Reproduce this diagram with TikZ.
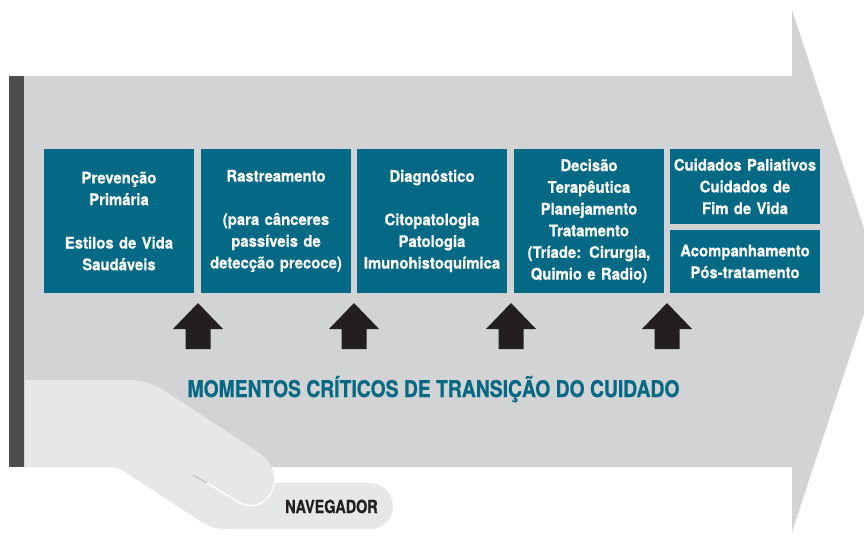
\documentclass[tikz,border=0pt]{standalone}
\usepackage{fontspec}
\newfontfamily\boxfont{TeX Gyre Heros}[FakeStretch=0.93, FakeBold=0.6]
\newfontfamily\titlefont{TeX Gyre Heros}[FakeStretch=0.84, FakeBold=0.6]
\newfontfamily\navfont{TeX Gyre Heros}[FakeStretch=0.80, FakeBold=0.6]
\definecolor{bodygray}{HTML}{D1D3D4}
\definecolor{handgray}{HTML}{E6E7E8}
\definecolor{bargray}{HTML}{4D4D4F}
\definecolor{boxteal}{HTML}{036984}
\definecolor{arrowblack}{HTML}{231F20}
\definecolor{creasegray}{HTML}{BDBEC0}
\tikzset{
  stagebox/.style={fill=boxteal, text=white, inner sep=0pt, minimum width=150pt,
    text width=148pt, align=center,
    font={\boxfont\bfseries\fontsize{16}{21.7}\selectfont}},
  uparrow/.pic={\fill[arrowblack] (-12.5,0) -- (12.5,0) -- (12.5,-20) -- (25,-20) -- (0,-46) -- (-25,-20) -- (-12.5,-20) -- cycle;}
}
\begin{document}
\begin{tikzpicture}[x=1pt,y=-1pt]
\useasboundingbox (0,0) rectangle (864,539);
% big arrow
\fill[bodygray] (24,76) -- (792,76) -- (792,10) -- (878,271) -- (792,532) -- (792,467) -- (24,467) -- cycle;
% hand
\fill[handgray] (25,380) -- (128,380) .. controls (145,380) and (155,385) .. (168,393)
  -- (255,450) .. controls (268,458) and (275,468) .. (274,483)
  -- (370,483) .. controls (383,483) and (393,494) .. (393,506)
  .. controls (393,519) and (383,529) .. (370,529)
  -- (225,529) .. controls (215,529) and (208,526) .. (200,521)
  -- (128,474) .. controls (122,470) and (118,467) .. (110,467)
  -- (25,467) -- cycle;
\draw[creasegray, line width=1pt] (193,475) -- (207,483);
\draw[white, line width=1.3pt] (207,483) -- (240,503) .. controls (255,511) and (272,500) .. (274,483);
% dark bar
\fill[bargray] (9,76) rectangle (24,467);
% boxes
\node[stagebox, minimum height=144pt] (b1) at (119,221) {Prevenção\\Primária\\[21.7pt]Estilos de Vida\\Saudáveis};
\node[stagebox, minimum height=144pt] (b2) at (276,221) {Rastreamento\\[21.7pt](para cânceres\\passíveis de\\detecção precoce)};
\node[stagebox, minimum height=144pt] (b3) at (432,221) {Diagnóstico\\[21.7pt]Citopatologia\\Patologia\\Imunohistoquímica};
\node[stagebox, minimum height=144pt] (b4) at (589,221) {Decisão\\Terapêutica\\Planejamento\\Tratamento\\(Tríade: Cirurgia,\\Quimio e Radio)};
\node[stagebox, minimum height=75pt] (b5) at (745,186.5) {Cuidados Paliativos\\Cuidados de\\Fim de Vida};
\node[stagebox, minimum height=63pt] (b6) at (745,261.5) {Acompanhamento\\Pós-tratamento};
% up arrows
\pic at (198,349) {uparrow};
\pic at (354,349) {uparrow};
\pic at (511,349) {uparrow};
\pic at (667,349) {uparrow};
% labels
\node[anchor=base, text=boxteal, inner sep=0pt, font={\titlefont\bfseries\fontsize{23}{26}\selectfont}] (title) at (433.5,397) {MOMENTOS CRÍTICOS DE TRANSIÇÃO DO CUIDADO};
\node[anchor=base, text=arrowblack, inner sep=0pt, font={\navfont\bfseries\fontsize{18}{20}\selectfont}] (nav) at (331.5,513) {NAVEGADOR};
\end{tikzpicture}
\end{document}
